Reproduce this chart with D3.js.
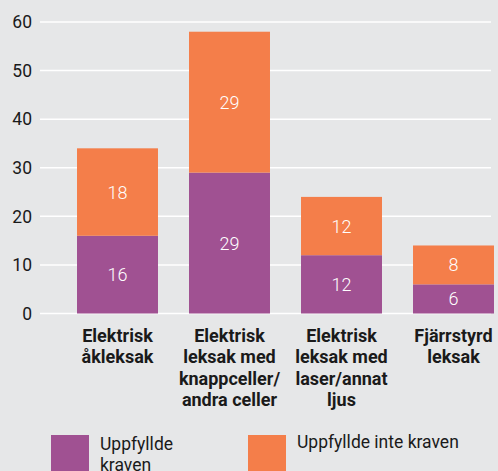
<!DOCTYPE html>
<html>
<head>
<meta charset="utf-8">
<script src="https://cdn.jsdelivr.net/npm/d3@7"></script>
<style>
  html, body { margin: 0; padding: 0; background: #e6e7e8; }
  svg { display: block; font-family: Roboto, "Open Sans", sans-serif; }
</style>
</head>
<body>
<div id="chart"></div>
<script>
const categories = [
  ['Elektrisk', 'åkleksak'],
  ['Elektrisk', 'leksak med', 'knappceller/', 'andra celler'],
  ['Elektrisk', 'leksak med', 'laser/annat', 'ljus'],
  ['Fjärrstyrd', 'leksak']
];
const passed = [16, 29, 12, 6];
const failed = [18, 29, 12, 8];
const seriesNames = ['Uppfyllde kraven', 'Uppfyllde inte kraven'];
const yTicks = [0, 10, 20, 30, 40, 50, 60];

const width = 498, height = 471;
const colors = ['#a05192', '#f47e4a'];

const svg = d3.select('#chart').append('svg')
  .attr('width', width)
  .attr('height', height);

svg.append('rect').attr('width', width).attr('height', height).attr('fill', '#e6e7e8');

const x = d3.scaleBand()
  .domain(d3.range(categories.length))
  .range([61.5, 509.5])
  .paddingInner(0.277)
  .paddingOuter(0.1385);

const y = d3.scaleLinear()
  .domain([0, 60])
  .range([313.5, 22]);

// grid
svg.append('g')
  .selectAll('line')
  .data(yTicks)
  .join('line')
  .attr('x1', 40)
  .attr('x2', 491)
  .attr('y1', d => y(d))
  .attr('y2', d => y(d))
  .attr('stroke', '#ffffff')
  .attr('stroke-width', 1.5);

svg.append('g')
  .selectAll('text')
  .data(yTicks)
  .join('text')
  .attr('x', 32)
  .attr('y', d => y(d))
  .attr('dy', '0.36em')
  .attr('text-anchor', 'end')
  .attr('font-size', 17.5)
  .attr('fill', '#1a1a1a')
  .text(d => d);

const stacked = categories.map((c, i) => [
  { y0: 0, y1: passed[i], v: passed[i], s: 0 },
  { y0: passed[i], y1: passed[i] + failed[i], v: failed[i], s: 1 }
]);

const groups = svg.append('g')
  .selectAll('g')
  .data(stacked)
  .join('g')
  .attr('transform', (d, i) => `translate(${x(i)},0)`);

groups.selectAll('rect')
  .data(d => d)
  .join('rect')
  .attr('x', 0)
  .attr('width', x.bandwidth())
  .attr('y', d => y(d.y1))
  .attr('height', d => y(d.y0) - y(d.y1))
  .attr('fill', d => colors[d.s]);

groups.selectAll('text')
  .data(d => d)
  .join('text')
  .attr('x', x.bandwidth() / 2)
  .attr('y', d => (y(d.y0) + y(d.y1)) / 2)
  .attr('dy', '0.36em')
  .attr('text-anchor', 'middle')
  .attr('font-size', 18)
  .attr('font-weight', 300)
  .attr('fill', '#ffffff')
  .text(d => d.v);

// category labels
const labels = svg.append('g')
  .selectAll('text')
  .data(categories)
  .join('text')
  .attr('x', (d, i) => x(i) + x.bandwidth() / 2)
  .attr('y', 341.5)
  .attr('text-anchor', 'middle')
  .attr('font-size', 18)
  .attr('font-weight', 'bold')
  .attr('fill', '#1a1a1a');

labels.selectAll('tspan')
  .data(d => d)
  .join('tspan')
  .attr('x', function () { return this.parentNode.getAttribute('x'); })
  .attr('dy', (d, i) => i === 0 ? 0 : 21.5)
  .text(d => d);

// legend
const legend = [
  { x: 51, tx: 100, lines: ['Uppfyllde', 'kraven'] },
  { x: 248, tx: 297, lines: ['Uppfyllde inte kraven'] }
];

const lg = svg.append('g')
  .selectAll('g')
  .data(legend)
  .join('g');

lg.append('rect')
  .attr('x', d => d.x)
  .attr('y', 435)
  .attr('width', 38)
  .attr('height', 38)
  .attr('fill', (d, i) => colors[i]);

lg.append('text')
  .attr('x', d => d.tx)
  .attr('y', (d, i) => i === 0 ? 450 : 448)
  .attr('font-size', 17.5)
  .attr('fill', '#1a1a1a')
  .selectAll('tspan')
  .data(d => d.lines.map(t => ({ t, x: d.tx })))
  .join('tspan')
  .attr('x', d => d.x)
  .attr('dy', (d, i) => i === 0 ? 0 : 21)
  .text(d => d.t);
</script>
</body>
</html>
